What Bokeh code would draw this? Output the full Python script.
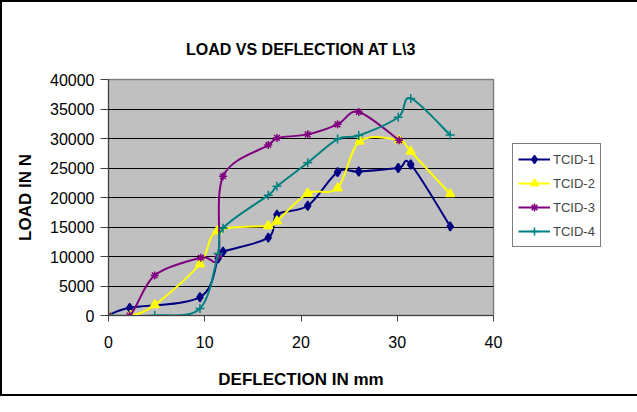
from bokeh.plotting import figure
from bokeh.models import FixedTicker, Range1d, Legend, LegendItem
from bokeh.embed import file_html
from bokeh.resources import INLINE

# ---- data ----
series_names = ["TCID-1", "TCID-2", "TCID-3", "TCID-4"]
x1 = [0, 2.2, 9.5, 11.4, 11.9, 16.6, 17.5, 20.7, 23.8, 26.0, 30.1, 31.4, 35.5]
y1 = [0, 1300, 3100, 9700, 10800, 13200, 17100, 18600, 24300, 24400, 25000, 25600, 15100]
x2 = [0, 2.3, 4.8, 9.5, 11.3, 16.6, 17.5, 20.7, 23.8, 26.1, 30.2, 31.4, 35.5]
y2 = [0, 0, 1800, 8700, 14300, 15200, 16000, 20700, 21600, 29500, 29700, 27800, 20600]
x3 = [0, 2.2, 4.8, 9.6, 11.4, 11.9, 16.6, 17.5, 20.7, 23.8, 26.0, 30.2]
y3 = [0, 0, 6800, 9800, 10000, 23600, 28900, 30100, 30700, 32400, 34500, 29700]
x4 = [0, 4.8, 9.5, 11.4, 11.9, 16.6, 17.5, 20.7, 23.8, 26.0, 30.1, 31.4, 35.5]
y4 = [0, 0, 1200, 10500, 14800, 20400, 21900, 25900, 29900, 30500, 33600, 36800, 30600]
x_ticks = [0, 10, 20, 30, 40]
y_ticks = [0, 5000, 10000, 15000, 20000, 25000, 30000, 35000, 40000]

colors = ["#000080", "#FFFF00", "#800080", "#008080"]
markers = ["diamond", "triangle", "asterisk", "cross"]
msizes = [9, 9, 8, 9]
FONT = "Liberation Sans"


def smooth_segments(xs, ys, t=1.0 / 6.0):
    """Cubic Bezier pieces through the data points (Excel-style smoothing)."""
    n = len(xs)
    out = dict(x0=[], y0=[], x1=[], y1=[], cx0=[], cy0=[], cx1=[], cy1=[])
    for i in range(n - 1):
        a = i - 1 if i > 0 else i
        b = i + 2 if i + 2 < n else i + 1
        out["x0"].append(xs[i]); out["y0"].append(ys[i])
        out["x1"].append(xs[i + 1]); out["y1"].append(ys[i + 1])
        out["cx0"].append(xs[i] + (xs[i + 1] - xs[a]) * t)
        out["cy0"].append(ys[i] + (ys[i + 1] - ys[a]) * t)
        out["cx1"].append(xs[i + 1] - (xs[b] - xs[i]) * t)
        out["cy1"].append(ys[i + 1] - (ys[b] - ys[i]) * t)
    return out


p = figure(frame_width=385, frame_height=236, output_backend="svg",
           toolbar_location=None,
           x_range=Range1d(0, 40), y_range=Range1d(0, 40000),
           min_border_left=106, min_border_right=126, min_border_top=77,
           min_border_bottom=79,
           title="LOAD VS DEFLECTION AT L\\3")
p.styles = {"border": "2px solid black"}
p.background_fill_color = "#C0C0C0"
p.border_fill_color = "white"
p.outline_line_color = "#808080"
p.outline_line_width = 1.5

p.title.align = "center"
p.title.vertical_align = "top"
p.title.text_font = FONT
p.title.text_font_style = "bold"
p.title.text_font_size = "16px"
p.title.text_color = "black"
p.title.standoff = 40

p.xgrid.visible = False
p.ygrid.ticker = FixedTicker(ticks=y_ticks)
p.ygrid.grid_line_color = "black"
p.ygrid.grid_line_width = 1

p.xaxis.ticker = FixedTicker(ticks=x_ticks)
p.yaxis.ticker = FixedTicker(ticks=y_ticks)
for ax in (p.xaxis[0], p.yaxis[0]):
    ax.axis_line_color = "#404040"
    ax.major_tick_line_color = "#404040"
    ax.minor_tick_line_color = None
    ax.major_tick_in = 0
    ax.major_label_text_font = FONT
    ax.major_label_text_font_size = "16px"
    ax.major_label_text_color = "black"
    ax.axis_label_text_font = FONT
    ax.axis_label_text_font_style = "bold"
    ax.axis_label_text_font_size = "17px"
    ax.axis_label_text_color = "black"

p.yaxis.major_tick_out = 8
p.yaxis.major_label_standoff = 6
p.yaxis.axis_label = "LOAD IN N"
p.yaxis.axis_label_standoff = 12
p.xaxis.major_tick_out = 6
p.xaxis.major_label_standoff = 14
p.xaxis.axis_label = "DEFLECTION IN mm"
p.xaxis.axis_label_standoff = 19

xs_all = [x1, x2, x3, x4]
ys_all = [y1, y2, y3, y4]
items = []
for name, xs, ys, c, m, ms in zip(series_names, xs_all, ys_all, colors, markers, msizes):
    seg = smooth_segments(xs, ys)
    p.bezier(x0="x0", y0="y0", x1="x1", y1="y1", cx0="cx0", cy0="cy0",
             cx1="cx1", cy1="cy1", source=seg, line_color=c, line_width=2)
    lr = p.line(x=xs[:1], y=ys[:1], line_color=c, line_width=2)
    sr = p.scatter(xs, ys, marker=m, size=ms, fill_color=c, line_color=c,
                   line_width=1.5)
    items.append(LegendItem(label=name, renderers=[lr, sr]))

legend = Legend(items=items, location=(19, 68), border_line_color="black",
                border_line_width=1, background_fill_color="white",
                label_text_font=FONT, label_text_font_size="13px",
                glyph_width=32, glyph_height=20, label_height=20,
                label_standoff=3, spacing=4, padding=5, margin=0)
p.add_layout(legend, "right")

open("out.html", "w").write(file_html(p, INLINE))
